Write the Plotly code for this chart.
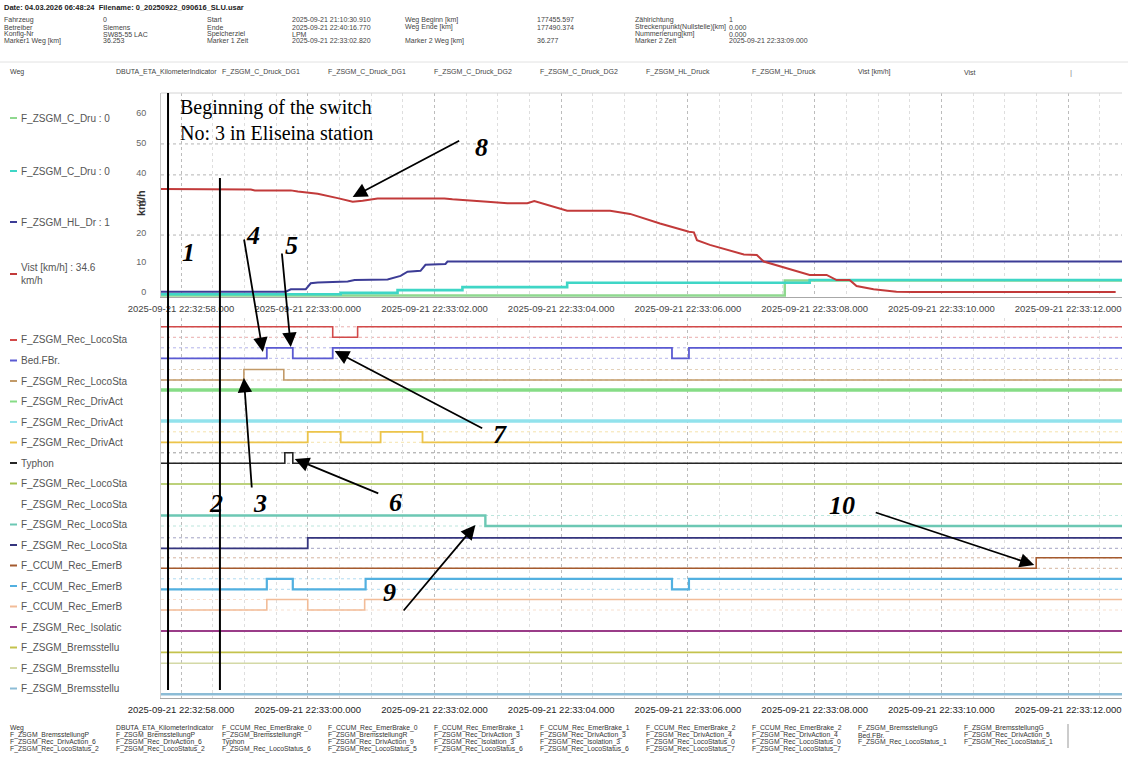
import plotly.graph_objects as go

W, H = 1128, 761
DAY = "2025-09-21"
T_START = "22:32:57.684"
T_END = "22:33:12.850"
MARKER_1 = "22:32:57.795"
MARKER_2 = "22:32:58.614"
TICK_TIMES = ["22:32:58", "22:33:00", "22:33:02", "22:33:04", "22:33:06",
              "22:33:08", "22:33:10", "22:33:12"]

# ---------------- analogue channels (upper chart, km/h scale) ----------------
VIST_TIME = ["22:32:57.650", "22:32:58.583", "22:32:58.661", "22:32:59.102", "22:32:59.165",
             "22:32:59.732", "22:32:59.843", "22:33:00.157", "22:33:00.472", "22:33:00.709",
             "22:33:00.866", "22:33:01.102", "22:33:02.157", "22:33:02.283", "22:33:02.835",
             "22:33:03.150", "22:33:03.465", "22:33:03.575", "22:33:04.094", "22:33:04.772",
             "22:33:05.087", "22:33:05.559", "22:33:06.016", "22:33:06.094", "22:33:06.142",
             "22:33:06.346", "22:33:06.882", "22:33:07.087", "22:33:07.197", "22:33:07.921",
             "22:33:08.189", "22:33:08.346", "22:33:08.551", "22:33:08.661", "22:33:08.929",
             "22:33:09.291", "22:33:09.559", "22:33:12.750"]
VIST_KMH = [34.6, 34.6, 34.4, 34.4, 34.1, 34.1, 33.7, 33.0, 31.5, 30.3,
            30.6, 31.4, 31.4, 31.1, 30.3, 29.8, 29.8, 30.5, 27.3, 27.3,
            26.2, 23.0, 20.2, 20.0, 17.4, 15.8, 12.6, 12.4, 10.2, 5.7,
            5.7, 4.0, 4.0, 2.0, 0.9, 0.1, 0.0, 0.0]

HL_TIME = ["22:32:57.650", "22:32:59.654", "22:32:59.732", "22:32:59.969", "22:33:00.047",
           "22:33:00.157", "22:33:00.630", "22:33:00.740", "22:33:01.260", "22:33:01.465",
           "22:33:01.575", "22:33:01.780", "22:33:01.858", "22:33:02.173", "22:33:02.205",
           "22:33:12.850"]
HL_VAL = [0.1, 0.1, 0.9, 0.9, 2.9, 3.2, 3.5, 4.0, 4.2, 5.4, 6.8, 7.1, 9.1, 9.4, 10.2, 10.2]

C_DG2_TIME = ["22:32:57.650", "22:33:00.520", "22:33:01.417", "22:33:02.441",
              "22:33:04.094", "22:33:07.921", "22:33:12.850"]
C_DG2_VAL = [-0.8, -0.3, 0.6, 1.6, 3.1, 4.0, 4.0]

C_DG1_TIME = ["22:32:57.650", "22:33:07.528", "22:33:12.850"]
C_DG1_VAL = [-1.2, 3.8, 3.8]

Y_TICKS = [0, 10, 20, 30, 40, 50, 60]
Y_GRID = [19.1, 39.3, 49.7]

TOP_LABELS = ["F_ZSGM_C_Dru : 0", "F_ZSGM_C_Dru : 0", "F_ZSGM_HL_Dr : 1",
              "Vist [km/h] : %.1f<br>km/h" % VIST_KMH[0]]
TOP_COLORS = ["#8fd88f", "#3fd6c6", "#3c3c96", "#c23a3a"]

# ---------------- binary channels (lower chart) ----------------
LANE_NAMES = ["F_ZSGM_Rec_LocoSta", "Bed.FBr.", "F_ZSGM_Rec_LocoSta", "F_ZSGM_Rec_DrivAct",
              "F_ZSGM_Rec_DrivAct", "F_ZSGM_Rec_DrivAct", "Typhon", "F_ZSGM_Rec_LocoSta",
              "F_ZSGM_Rec_LocoSta", "F_ZSGM_Rec_LocoSta", "F_ZSGM_Rec_LocoSta", "F_CCUM_Rec_EmerB",
              "F_CCUM_Rec_EmerB", "F_CCUM_Rec_EmerB", "F_ZSGM_Rec_Isolatic", "F_ZSGM_Bremsstellu",
              "F_ZSGM_Bremsstellu", "F_ZSGM_Bremsstellu"]
LANE_COLORS = ["#d24a4a", "#5a5ad2", "#c29a68", "#86dc86", "#92e2ec", "#ecc44a", "#262626",
               "#a6c24e", None, "#6cc8b4", "#35357e", "#a45a2e", "#52b0e0", "#f2bc98",
               "#9a3c88", "#c4c24c", "#d4d9a6", "#8cbcd6"]
LANE_WIDTH = [1.6, 1.8, 1.6, 3.5, 3.5, 1.8, 1.6, 1.6, 0, 2.4, 1.8, 1.6, 2.2, 1.6,
              2.2, 1.8, 1.6, 2.6]
INIT_STATE = [1, 0, 0, 0, 0, 0, 0, 0, None, 1, 0, 0, 0, 0, 0, 0, 0, 0]
EDGES = [
    ["22:33:00.394", "22:33:00.787"],
    ["22:32:59.354", "22:32:59.764", "22:33:00.394", "22:33:05.748", "22:33:06.016"],
    ["22:32:58.992", "22:32:59.622"],
    [],
    [],
    ["22:33:00.000", "22:33:00.520", "22:33:01.150", "22:33:01.811"],
    ["22:32:59.638", "22:32:59.764"],
    [],
    None,
    ["22:33:02.803"],
    ["22:33:00.000"],
    ["22:33:11.496"],
    ["22:32:59.354", "22:32:59.764", "22:33:00.913", "22:33:05.748", "22:33:06.016"],
    ["22:32:59.354", "22:33:00.000", "22:33:00.898"],
    [], [], [], [],
]

# lane baselines in the lower chart (offset from its top edge) and step height
LANE_BASE = [19.3, 40.3, 62.0, 72.0, 103.0, 124.3, 145.3, 166.0, None, 208.0,
             230.3, 250.3, 271.3, 292.0, 313.0, 334.3, 345.3, 376.3]
STEP_H = 10.5
LOWER_SPAN = 380

# ---------------- header / footer text ----------------
HEADER_TITLE = "Date: 04.03.2026 06:48:24  Filename: 0_20250922_090616_SLU.usar"
HEADER_ROWS = [
    ["Fahrzeug", "0", "Start", "2025-09-21 21:10:30.910", "Weg Beginn [km]", "177455.597", "Zählrichtung", "1"],
    ["Betreiber", "Siemens", "Ende", "2025-09-21 22:40:16.770", "Weg Ende [km]", "177490.374", "Streckenpunkt(Nullstelle)[km]", "0.000"],
    ["Konfig-Nr", "SW85-55 LAC", "Speicherziel", "LPM", "", "", "Nummerierung[km]", "0.000"],
    ["Marker1 Weg [km]", "36.253", "Marker 1 Zeit", "2025-09-21 22:33:02.820", "Marker 2 Weg [km]", "36.277", "Marker 2 Zeit", "2025-09-21 22:33:09.000"],
]
CHANNEL_ROW = ["Weg", "DBUTA_ETA_KilometerIndicator", "F_ZSGM_C_Druck_DG1", "F_ZSGM_C_Druck_DG1",
               "F_ZSGM_C_Druck_DG2", "F_ZSGM_C_Druck_DG2", "F_ZSGM_HL_Druck", "F_ZSGM_HL_Druck",
               "Vist [km/h]", "Vist"]
FOOTER_COLS = [
    ["Weg", "F_ZSGM_BremsstellungP", "F_ZSGM_Rec_DrivAction_6", "F_ZSGM_Rec_LocoStatus_2"],
    ["DBUTA_ETA_KilometerIndicator", "F_ZSGM_BremsstellungP", "F_ZSGM_Rec_DrivAction_6", "F_ZSGM_Rec_LocoStatus_2"],
    ["F_CCUM_Rec_EmerBrake_0", "F_ZSGM_BremsstellungR", "Typhon", "F_ZSGM_Rec_LocoStatus_6"],
    ["F_CCUM_Rec_EmerBrake_0", "F_ZSGM_BremsstellungR", "F_ZSGM_Rec_DrivAction_9", "F_ZSGM_Rec_LocoStatus_5"],
    ["F_CCUM_Rec_EmerBrake_1", "F_ZSGM_Rec_DrivAction_3", "F_ZSGM_Rec_Isolation_3", "F_ZSGM_Rec_LocoStatus_6"],
    ["F_CCUM_Rec_EmerBrake_1", "F_ZSGM_Rec_DrivAction_3", "F_ZSGM_Rec_Isolation_3", "F_ZSGM_Rec_LocoStatus_6"],
    ["F_CCUM_Rec_EmerBrake_2", "F_ZSGM_Rec_DrivAction_4", "F_ZSGM_Rec_LocoStatus_0", "F_ZSGM_Rec_LocoStatus_7"],
    ["F_CCUM_Rec_EmerBrake_2", "F_ZSGM_Rec_DrivAction_4", "F_ZSGM_Rec_LocoStatus_0", "F_ZSGM_Rec_LocoStatus_7"],
    ["F_ZSGM_BremsstellungG", "Bed.FBr.", "F_ZSGM_Rec_LocoStatus_1", ""],
    ["F_ZSGM_BremsstellungG", "F_ZSGM_Rec_DrivAction_5", "F_ZSGM_Rec_LocoStatus_1", ""],
]

SERIF = "Liberation Serif"
SANS = "Liberation Sans"


def ts(t):
    return f"{DAY} {t}"


def PX(x):
    return x / W


def PY(y):
    return 1 - y / H


fig = go.Figure()

# upper chart
for tt, vv, col, wid, shape in [
    (C_DG1_TIME, C_DG1_VAL, TOP_COLORS[0], 2.5, "hv"),
    (C_DG2_TIME, C_DG2_VAL, TOP_COLORS[1], 2.6, "hv"),
    (HL_TIME, HL_VAL, TOP_COLORS[2], 2.0, "linear"),
    (VIST_TIME, VIST_KMH, TOP_COLORS[3], 2.0, "linear"),
]:
    fig.add_trace(go.Scatter(x=[ts(t) for t in tt], y=vv, mode="lines",
                             line=dict(color=col, width=wid, shape=shape),
                             xaxis="x", yaxis="y", hoverinfo="skip"))

shapes = []

# lower chart: dotted reference levels, then step traces
for i, edges in enumerate(EDGES):
    if edges is None:
        continue
    base = LANE_BASE[i]
    if edges:
        for lvl in (base, base - STEP_H):
            shapes.append(dict(type="line", xref="x2 domain", yref="y2", x0=0, x1=1,
                               y0=lvl, y1=lvl, layer="below",
                               line=dict(color=LANE_COLORS[i], width=1, dash="dot"),
                               opacity=0.45))
    times = [T_START] + edges + [T_END]
    states = []
    s = INIT_STATE[i]
    for k in range(len(times)):
        if 0 < k < len(times) - 1:
            s = 1 - s
        states.append(s)
    yv = [base - st * STEP_H for st in states]
    fig.add_trace(go.Scatter(x=[ts(t) for t in times], y=yv, mode="lines",
                             line=dict(color=LANE_COLORS[i], width=LANE_WIDTH[i], shape="hv"),
                             xaxis="x2", yaxis="y2", hoverinfo="skip"))

# horizontal grid of upper chart
for g in Y_GRID:
    shapes.append(dict(type="line", xref="x domain", yref="y", x0=0, x1=1, y0=g, y1=g,
                       layer="below", line=dict(color="#b4b4b4", width=1, dash="dot")))
# top border of upper chart
shapes.append(dict(type="line", xref="x domain", yref="y domain", x0=0, x1=1, y0=1, y1=1,
                   line=dict(color="#d4d4d4", width=1)))

# event marker lines 1 and 2
shapes.append(dict(type="line", xref="x", yref="paper", x0=ts(MARKER_1), x1=ts(MARKER_1),
                   y0=PY(690), y1=PY(93), line=dict(color="black", width=2)))
shapes.append(dict(type="line", xref="x", yref="paper", x0=ts(MARKER_2), x1=ts(MARKER_2),
                   y0=PY(690), y1=PY(178), line=dict(color="black", width=2)))

# header separator and footer bar
shapes.append(dict(type="line", xref="paper", yref="paper", x0=0, x1=1, y0=PY(62), y1=PY(62),
                   line=dict(color="#e2e2e2", width=1)))
shapes.append(dict(type="line", xref="paper", yref="paper", x0=PX(1068), x1=PX(1068),
                   y0=PY(724), y1=PY(748), line=dict(color="#999", width=1)))

ann = []

# header text
ann.append(dict(text="<b>" + HEADER_TITLE + "</b>", x=PX(2), y=PY(8), xref="paper", yref="paper",
                xanchor="left", yanchor="middle", showarrow=False,
                font=dict(family=SANS, size=7.5, color="#222")))
HEAD_X = [2, 101, 205, 290, 403, 535, 633, 727]
for r, row in enumerate(HEADER_ROWS):
    for c, txt in enumerate(row):
        if txt:
            ann.append(dict(text=txt, x=PX(HEAD_X[c]), y=PY(20 + 7 * r), xref="paper", yref="paper",
                            xanchor="left", yanchor="middle", showarrow=False,
                            font=dict(family=SANS, size=7, color="#444")))
COL_X = [8 + 106 * k for k in range(11)]
for c, txt in enumerate(CHANNEL_ROW):
    ann.append(dict(text=txt, x=PX(COL_X[c]), y=PY(72), xref="paper", yref="paper",
                    xanchor="left", yanchor="middle", showarrow=False,
                    font=dict(family=SANS, size=7, color="#444")))
ann.append(dict(text="|", x=PX(COL_X[10]), y=PY(72), xref="paper", yref="paper",
                xanchor="left", yanchor="middle", showarrow=False,
                font=dict(family=SANS, size=8, color="#888")))

# footer text
for c, col in enumerate(FOOTER_COLS):
    for r, txt in enumerate(col):
        if txt:
            ann.append(dict(text=txt, x=PX(COL_X[c]), y=PY(728 + 7 * r), xref="paper", yref="paper",
                            xanchor="left", yanchor="middle", showarrow=False,
                            font=dict(family=SANS, size=6.8, color="#333")))

# channel labels of upper chart
TOP_LABEL_Y = [118, 171, 222, 274]
for i, txt in enumerate(TOP_LABELS):
    ann.append(dict(text=txt, x=PX(19), y=PY(TOP_LABEL_Y[i]), xref="paper", yref="paper",
                    xanchor="left", yanchor="middle", align="left", showarrow=False,
                    font=dict(family=SANS, size=10, color="#555")))
    shapes.append(dict(type="line", xref="paper", yref="paper", x0=PX(10), x1=PX(17),
                       y0=PY(TOP_LABEL_Y[i]), y1=PY(TOP_LABEL_Y[i]),
                       line=dict(color=TOP_COLORS[i], width=2)))

# channel labels of lower chart
for i, txt in enumerate(LANE_NAMES):
    ly = 340 + 20.5 * i
    ann.append(dict(text=txt, x=PX(19), y=PY(ly), xref="paper", yref="paper",
                    xanchor="left", yanchor="middle", showarrow=False,
                    font=dict(family=SANS, size=10, color="#555")))
    if LANE_COLORS[i]:
        shapes.append(dict(type="line", xref="paper", yref="paper", x0=PX(10), x1=PX(17),
                           y0=PY(ly), y1=PY(ly), line=dict(color=LANE_COLORS[i], width=2)))

# y title
ann.append(dict(text="<b>km/h</b>", x=PX(133), y=PY(188), xref="paper", yref="paper",
                textangle=-90, showarrow=False, font=dict(family=SANS, size=11, color="#333")))

# switch note
ann.append(dict(text="Beginning of the switch<br>No: 3 in Eliseina station", x=PX(178), y=PY(94),
                xref="paper", yref="paper", xanchor="left", yanchor="top", align="left",
                showarrow=False, font=dict(family=SERIF, size=20, color="black")))

# event numbers
NUMBERS = [("1", 180, 236), ("4", 244, 219), ("5", 283, 229), ("8", 481, 131),
           ("2", 207, 503), ("3", 251, 503), ("6", 395, 502), ("7", 500, 434),
           ("9", 389, 609), ("10", 857, 505)]
for txt, x, y in NUMBERS:
    ann.append(dict(text="<b><i>" + txt + "</i></b>", x=PX(x), y=PY(y), xref="paper", yref="paper",
                    showarrow=False, font=dict(family=SERIF, size=26, color="black")))

# arrows: tip on a data point, tail offset in pixels
ARROWS = [
    ("x", "y", "22:33:00.709", 31.9, 108, -57),
    ("x2", "y2", "22:32:59.291", 34, -19, -114),
    ("x2", "y2", "22:32:59.732", 29, -9, -95),
    ("x2", "y2", "22:33:00.425", 33, 149, 78),
    ("x2", "y2", "22:32:58.992", 60, 8, 111),
    ("x2", "y2", "22:32:59.795", 141, 85, 35),
    ("x2", "y2", "22:33:02.646", 207, -73, 87),
    ("x2", "y2", "22:33:11.465", 247, -160, -53),
]
for xr, yr, t, v, ax, ay in ARROWS:
    ann.append(dict(text="", x=ts(t), y=v, xref=xr, yref=yr, ax=ax, ay=ay,
                    showarrow=True, arrowhead=2, arrowsize=1.6, arrowwidth=1.8,
                    arrowcolor="black", standoff=0))

XDOM = [PX(161), PX(1122)]
common_x = dict(type="date", range=[ts(T_START), ts(T_END)], automargin=False,
                tickvals=[ts(t) for t in TICK_TIMES],
                ticktext=[ts(t) + ".000" for t in TICK_TIMES],
                showgrid=True, griddash="dot",
                gridcolor="#bcbcbc", gridwidth=1, zeroline=False, showline=True,
                linecolor="#a8a8a8", ticks="", ticklabelstandoff=3,
                minor=dict(dtick=500, tick0=ts("22:32:58"), showgrid=True, griddash="dot",
                           gridcolor="#dedede"))

fig.update_layout(
    width=W, height=H, margin=dict(l=0, r=0, t=0, b=0, autoexpand=False),
    paper_bgcolor="white", plot_bgcolor="white", showlegend=False,
    xaxis=dict(domain=XDOM, anchor="y", tickfont=dict(family=SANS, size=9.5, color="#444"),
               **common_x),
    yaxis=dict(domain=[PY(297), PY(93)], anchor="x", range=[-1.7, 66.8], tickvals=Y_TICKS,
               automargin=False, showgrid=False, zeroline=False, showline=True,
               linecolor="#c8c8c8", ticks="", ticklabelstandoff=12,
               tickfont=dict(family=SANS, size=9, color="#666")),
    xaxis2=dict(domain=XDOM, anchor="y2", tickfont=dict(family=SANS, size=9.5, color="#1e1e1e"),
                **common_x),
    yaxis2=dict(domain=[PY(698), PY(318)], anchor="x2", range=[LOWER_SPAN, 0],
                automargin=False, showgrid=False, zeroline=False, showline=True,
                linecolor="#d0d0d0", showticklabels=False, ticks=""),
    shapes=shapes, annotations=ann,
)

fig.write_html("out.html")
